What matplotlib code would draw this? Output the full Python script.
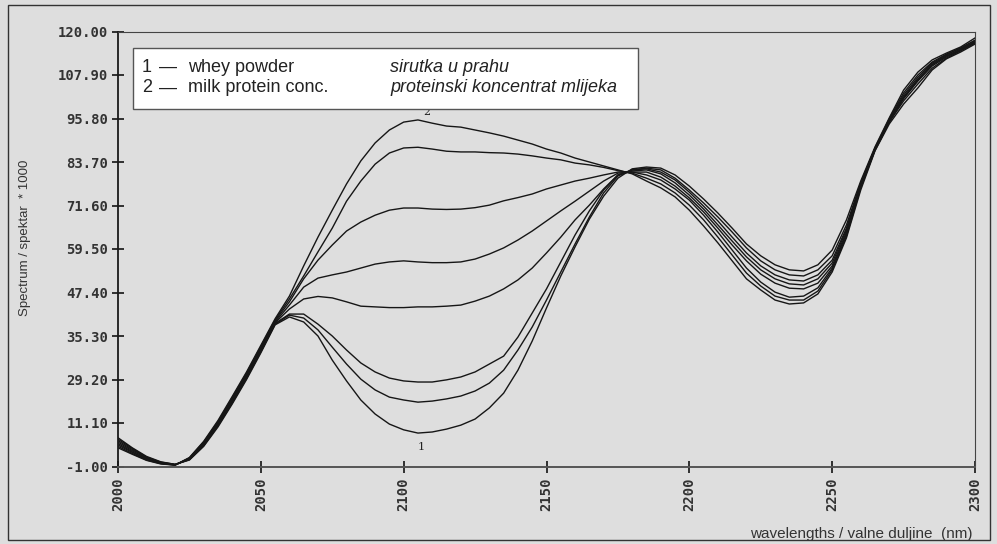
import numpy as np
import matplotlib
matplotlib.use("Agg")
import matplotlib.pyplot as plt
from matplotlib.patches import Rectangle

W, H = 997, 544
BG = '#dedede'

# wavelength grid (nm) and the 8 spectra, curve 1 .. curve 2 ("milk protein")
wl = np.arange(2000, 2301, 5)

c1 = [7.0, 4.2, 1.8, 0.3, -0.4, 0.8, 4.6, 10.0, 16.4, 23.2, 30.6, 38.4,
      40.6, 39.2, 35.3, 28.6, 22.8, 17.5, 13.6, 10.8, 9.2, 8.3, 8.6, 9.4, 10.5, 12.2,
      15.3, 19.4, 25.8, 33.9, 43.1, 52.0, 60.1, 67.8, 74.2, 79.2,
      81.8, 82.3, 82.0, 80.1, 77.0, 73.4, 69.5, 65.3, 60.9, 57.6, 55.1, 53.7, 53.4,
      55.1, 59.2, 67.6, 78.4, 87.9, 96.0, 103.7, 108.7, 112.1, 114.0, 115.7, 118.2]
c2 = [6.6, 4.0, 1.6, 0.2, -0.4, 0.9, 4.8, 10.3, 16.7, 23.5, 30.9, 38.6,
      41.1, 40.3, 37.0, 32.2, 27.5, 23.3, 20.3, 18.3, 17.5, 16.9, 17.2, 17.8, 18.6, 20.0,
      22.2, 25.8, 31.4, 37.8, 45.3, 53.1, 60.9, 68.4, 75.1, 79.8,
      81.5, 82.0, 81.5, 79.2, 75.9, 72.3, 68.4, 64.2, 59.8, 56.2, 53.7, 52.3, 52.0,
      53.7, 57.6, 66.2, 77.9, 87.6, 95.7, 102.9, 107.9, 111.5, 113.7, 115.4, 117.6]
c3 = [6.2, 3.7, 1.5, 0.1, -0.5, 1.0, 5.0, 10.5, 17.0, 23.8, 31.2, 38.8,
      41.4, 41.4, 38.6, 35.3, 31.4, 27.8, 25.3, 23.6, 22.8, 22.5, 22.5, 23.1, 23.9, 25.3,
      27.5, 29.7, 35.0, 41.7, 48.4, 55.9, 63.4, 70.1, 75.9, 80.1,
      81.5, 81.8, 80.9, 78.7, 75.3, 71.4, 67.3, 62.8, 58.4, 54.8, 52.3, 50.9, 50.6,
      52.3, 56.4, 65.3, 77.6, 87.6, 95.4, 102.3, 107.3, 111.2, 113.5, 115.4, 117.4]
c4 = [5.8, 3.4, 1.3, 0.0, -0.5, 1.1, 5.2, 10.8, 17.3, 24.1, 31.5, 39.0,
      42.8, 45.6, 46.3, 45.9, 44.8, 43.6, 43.4, 43.2, 43.2, 43.4, 43.4, 43.6, 43.9, 45.0,
      46.4, 48.4, 50.9, 54.2, 58.4, 62.8, 67.6, 71.7, 76.2, 80.1,
      81.2, 81.5, 80.4, 77.9, 74.5, 70.6, 66.2, 61.7, 57.3, 53.7, 51.2, 49.8, 49.5,
      51.2, 55.6, 64.8, 77.3, 87.3, 95.1, 101.8, 106.8, 110.9, 113.2, 115.1, 117.1]
c5 = [5.4, 3.1, 1.1, -0.1, -0.5, 1.2, 5.4, 11.0, 17.6, 24.4, 31.8, 39.2,
      43.9, 48.9, 51.4, 52.3, 53.1, 54.2, 55.3, 55.9, 56.2, 55.9, 55.7, 55.7, 55.9, 56.7,
      58.1, 59.8, 62.0, 64.5, 67.3, 70.1, 72.8, 75.6, 78.4, 80.6,
      80.9, 80.9, 79.5, 77.0, 73.7, 69.8, 65.3, 60.6, 56.2, 52.5, 50.0, 48.6, 48.4,
      50.0, 54.8, 64.2, 77.0, 87.0, 94.8, 101.5, 106.5, 110.7, 113.2, 114.8, 116.8]
c6 = [5.0, 2.9, 1.0, -0.1, -0.6, 1.3, 5.6, 11.3, 17.9, 24.7, 32.1, 39.5,
      44.8, 51.2, 56.4, 60.6, 64.5, 67.0, 68.9, 70.3, 70.9, 70.9, 70.6, 70.5, 70.6, 71.0,
      71.7, 72.9, 73.8, 74.8, 76.2, 77.3, 78.4, 79.2, 80.1, 80.9,
      80.9, 80.1, 78.7, 76.2, 73.1, 68.9, 64.2, 59.2, 54.2, 50.3, 47.5, 46.1, 46.4,
      48.7, 54.2, 63.7, 76.7, 87.3, 95.1, 101.3, 106.2, 110.4, 112.9, 114.8, 117.1]
c7 = [4.6, 2.6, 0.8, -0.2, -0.6, 1.4, 5.8, 11.5, 18.2, 25.0, 32.4, 39.8,
      45.6, 52.0, 58.7, 65.3, 72.8, 78.4, 83.1, 86.2, 87.6, 87.8, 87.3, 86.7, 86.5, 86.5,
      86.3, 86.2, 85.9, 85.4, 84.8, 84.3, 83.4, 82.9, 82.2, 81.3,
      80.6, 79.2, 77.6, 75.1, 71.7, 67.6, 62.8, 57.8, 52.8, 49.2, 46.4, 45.3, 45.3,
      47.8, 53.7, 63.1, 76.5, 87.0, 94.8, 100.7, 105.4, 109.8, 112.6, 114.6, 116.8]
c8 = [4.2, 2.4, 0.7, -0.3, -0.6, 1.5, 6.0, 11.8, 18.5, 25.3, 32.7, 40.1,
      46.4, 54.8, 62.8, 70.3, 77.6, 84.0, 89.0, 92.6, 94.8, 95.4, 94.5, 93.7, 93.4, 92.6,
      91.8, 90.9, 89.8, 88.7, 87.3, 86.2, 84.8, 83.7, 82.6, 81.5,
      80.4, 78.4, 76.5, 74.0, 70.3, 65.9, 61.2, 56.2, 51.2, 48.1, 45.3, 44.2, 44.5,
      47.0, 53.1, 62.6, 75.9, 86.8, 94.3, 99.8, 104.3, 109.3, 112.4, 114.3, 116.5]
curves = [c1, c2, c3, c4, c5, c6, c7, c8]

ytick_vals = [-1.0, 11.1, 23.2, 35.3, 47.4, 59.5, 71.6, 83.7, 95.8, 107.9, 120.0]
ytick_labels = ['-1.00', '11.10', '29.20', '35.30', '47.40', '59.50',
                '71.60', '83.70', '95.80', '107.90', '120.00']
xtick_vals = [2000, 2050, 2100, 2150, 2200, 2250, 2300]

legend_rows = [('1', 'whey powder', 'sirutka u prahu'),
               ('2', 'milk protein conc.', 'proteinski koncentrat mlijeka')]


def fx(px):
    return px / W


def fy(py):
    return 1 - py / H


fig = plt.figure(figsize=(W / 100, H / 100), dpi=100, facecolor=BG)
ax = fig.add_axes([fx(118), fy(466.5), (975 - 118) / W, (466.5 - 31.5) / H])
ax.set_facecolor(BG)

for c in curves:
    ax.plot(wl, c, color='#161616', lw=1.0, solid_joinstyle='round')

ax.set_xlim(2000, 2300)
ax.set_ylim(-1, 120)

mono = dict(family='DejaVu Sans Mono', weight='bold', size=10, color='#333333')
ax.set_yticks(ytick_vals)
ax.set_yticklabels(ytick_labels, fontdict=mono)
ax.set_xticks(xtick_vals)
ax.set_xticklabels([str(v) for v in xtick_vals], fontdict=mono, rotation=90)
ax.tick_params(axis='both', direction='inout', length=8, width=1.3, color='#222222')
ax.tick_params(axis='y', pad=3)
ax.tick_params(axis='x', pad=4)

ax.spines['left'].set_color('#1a1a1a')
ax.spines['left'].set_linewidth(1.3)
ax.spines['bottom'].set_color('#555555')
ax.spines['bottom'].set_linewidth(1.4)
ax.spines['top'].set_color('#444444')
ax.spines['right'].set_color('#444444')

# curve numbers
ax.text(2108, 97.5, '2', fontsize=8, family='DejaVu Serif', ha='center', va='center', color='#222222')
ax.text(2106, 4.5, '1', fontsize=8, family='DejaVu Serif', ha='center', va='center', color='#222222')

# legend box
fig.add_artist(Rectangle((fx(133), fy(109)), (638 - 133) / W, (109 - 48) / H,
                         transform=fig.transFigure, facecolor='white',
                         edgecolor='#555555', lw=1.0))
row_y = [67, 88]
for (num, en, hr), py in zip(legend_rows, row_y):
    fig.text(fx(142), fy(py), num, fontsize=13, family='Liberation Sans', va='center', color='#222222')
    fig.text(fx(159), fy(py), '\u2014', fontsize=13, family='Liberation Sans', va='center', color='#222222')
    fig.text(fx(188), fy(py), en, fontsize=13, family='Liberation Sans', va='center', color='#222222')
    fig.text(fx(390), fy(py), hr, fontsize=13, family='Liberation Sans', style='italic',
             va='center', color='#222222')

fig.text(fx(25), fy(238), 'Spectrum / spektar  * 1000', rotation=90, fontsize=9.5,
         family='Liberation Sans', ha='center', va='center', color='#333333')
fig.text(fx(973), fy(534), 'wavelengths / valne duljine  (nm)', fontsize=11,
         family='Liberation Sans', ha='right', va='center', color='#333333')

# outer frame
fig.add_artist(Rectangle((fx(8), fy(540)), (990 - 8) / W, (540 - 5) / H,
                         transform=fig.transFigure, fill=False, edgecolor='#333333', lw=1.0))

fig.savefig('out.png', dpi=100, facecolor=BG)
plt.close(fig)
